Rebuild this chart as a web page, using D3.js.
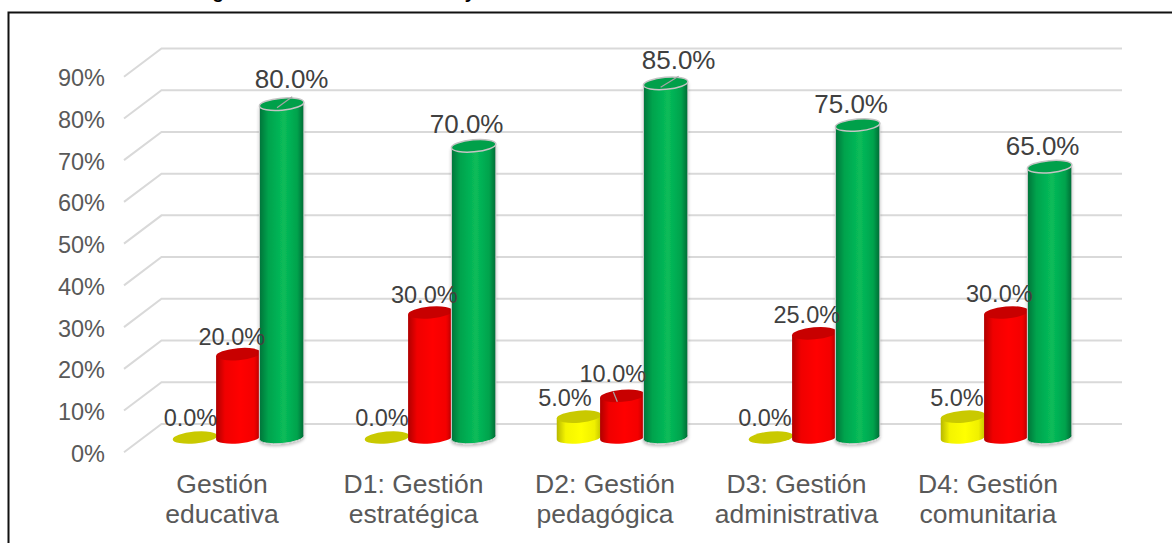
<!DOCTYPE html>
<html>
<head>
<meta charset="utf-8">
<script src="https://cdn.jsdelivr.net/npm/d3@7"></script>
<style>
html, body { margin: 0; padding: 0; background: #fff; overflow: hidden; }
svg { display: block; font-family: "Liberation Sans", Arial, sans-serif; }
</style>
</head>
<body>
<script>
const categories = ["Gestión educativa", "D1: Gestión estratégica", "D2: Gestión pedagógica", "D3: Gestión administrativa", "D4: Gestión comunitaria"];
const seriesNames = ["Inicio", "Proceso", "Logro"];
const inicio = [0, 0, 5, 0, 5];
const proceso = [20, 30, 10, 25, 30];
const logro = [80, 70, 85, 75, 65];
const yTicks = [0, 10, 20, 30, 40, 50, 60, 70, 80, 90];

const width = 1172, height = 543;
const rx = 22.3, ry = 6, tilt = -5;
const dxTilt = rx * Math.cos(tilt * Math.PI / 180), dyTilt = rx * Math.sin(tilt * Math.PI / 180);

const svg = d3.select(document.body).append("svg").attr("width", width).attr("height", height);
const defs = svg.append("defs");

const colors = [
    { stops: ["#b8b800", "#f4f400", "#ffff00", "#f0f000", "#c4c400"], top: "#c9c900", stroke: "none" },
    { stops: ["#b00000", "#f00000", "#ff0000", "#f40000", "#c00000"], top: "#c80000", stroke: "none" },
    { stops: ["#00743a", "#00a34d", "#08bc5a", "#00a34d", "#006b35"], top: "#00a04a", stroke: "#c4c4c4" },
];
colors.forEach((c, i) => {
    const g = defs.append("linearGradient").attr("id", "body" + i);
    [0, 0.2, 0.55, 0.85, 1].forEach((o, j) => g.append("stop").attr("offset", o).attr("stop-color", c.stops[j]));
});
defs.append("filter").attr("id", "shadow").attr("x", "-20%").attr("width", "140%").attr("y", "-5%").attr("height", "115%")
    .append("feDropShadow").attr("dx", 0).attr("dy", 2).attr("stdDeviation", 1.5).attr("flood-color", "#000").attr("flood-opacity", 0.25);

const x0 = d3.scaleBand().domain(categories).range([142.3, 1102.3]);
const x1 = d3.scaleBand().domain(seriesNames).range([-65, 65]);
const xLabel = d3.scalePoint().domain(categories).range([222, 988]);
const yFront = d3.scaleLinear().domain([0, 90]).range([452.3, 76.7]);
const yBack = d3.scaleLinear().domain([0, 90]).range([423.9, 48.5]);
const yBar = d3.scaleLinear().domain([0, 90]).range([437.5, 62.5]);

const barX = (s, i) => x0(categories[i]) + x0.bandwidth() / 2 + x1(seriesNames[s]) + x1.bandwidth() / 2;

// frame, right and bottom edges fall outside the picture
svg.append("path").attr("d", "M8.5,543V12.5H1172").attr("fill", "none").attr("stroke", "#111").attr("stroke-width", 2);

// what is left of the cropped title
svg.selectAll(".cut").data(["g", "y"]).enter().append("text")
    .attr("x", (d, i) => i ? 470 : 218).attr("y", -2.5).attr("text-anchor", "middle")
    .attr("font-size", 19).attr("font-weight", "bold").attr("fill", "#000").text(d => d);

// walls
const grid = svg.append("g").attr("fill", "none").attr("stroke", "#d9d9d9").attr("stroke-width", 2);
grid.selectAll("path").data(yTicks).enter().append("path")
    .attr("d", d => `M124,${yFront(d)}L161.5,${yBack(d)}H1122`);

svg.append("g").selectAll("text").data(yTicks).enter().append("text")
    .attr("x", 105).attr("y", d => yFront(d) + 1.3).attr("dy", "0.35em").attr("text-anchor", "end")
    .attr("font-size", 23.5).attr("fill", "#595959").text(d => d + "%");

// category labels
const catLabels = svg.append("g").attr("font-size", 26.5).attr("fill", "#595959").attr("text-anchor", "middle");
categories.forEach(c => {
    const k = c.lastIndexOf(" ");
    const t = catLabels.append("text");
    t.append("tspan").attr("x", xLabel(c)).attr("y", 493).text(c.slice(0, k));
    t.append("tspan").attr("x", xLabel(c)).attr("y", 523).text(c.slice(k + 1));
});

// cylinders
const series = [inicio, proceso, logro];
const bars = svg.append("g");
series.forEach((vals, s) => {
    vals.forEach((v, i) => {
        const cx = barX(s, i);
        const yb = yBar(0), yt = yBar(v);
        const g = bars.append("g");
        const c = colors[s];
        if (v > 0) {
            g.append("path")
                .attr("d", `M${cx - dxTilt},${yt - dyTilt}L${cx - dxTilt},${yb - dyTilt}A${rx},${ry} ${tilt} 0 0 ${cx + dxTilt},${yb + dyTilt}L${cx + dxTilt},${yt + dyTilt}Z`)
                .attr("fill", `url(#body${s})`)
                .attr("stroke", c.stroke === "none" ? "none" : "#d0d0d0")
                .attr("filter", s === 2 ? "url(#shadow)" : null);
        }
        g.append("ellipse").attr("rx", rx).attr("ry", ry)
            .attr("transform", `translate(${cx},${yt}) rotate(${tilt})`)
            .attr("fill", c.top).attr("stroke", c.stroke).attr("stroke-width", 1.5);
    });
});

// data labels were dragged by hand in the original: offsets from the cylinder top
const labelNudge = [
    [[-4.5, -19.5], [-5, -19.5], [-14, -18.5], [-6, -19.5], [-6, -18.5]],
    [[-6.5, -17], [-6, -17.5], [-9.5, -22.5], [-7.5, -18.5], [-7, -18.5]],
    [[10, -25], [-7, -21.5], [13, -23.5], [-6.5, -21.5], [-7, -20.5]],
];
const labelSize = [23.5, 23.5, 26];
const labels = svg.append("g").attr("fill", "#404040").attr("text-anchor", "middle");
series.forEach((vals, s) => {
    vals.forEach((v, i) => {
        labels.append("text").attr("font-size", labelSize[s])
            .attr("x", barX(s, i) + labelNudge[s][i][0]).attr("y", yBar(v) + labelNudge[s][i][1])
            .attr("dy", "0.35em").text(v.toFixed(1) + "%");
    });
});

// leader lines for the labels sitting far from their cylinder
const leaders = [
    { s: 2, i: 0, from: [-4.6, 3.5], to: [10.6, -7.5] },
    { s: 2, i: 2, from: [-5, 4], to: [13, -7] },
    { s: 1, i: 2, from: [-9, -4], to: [-5, 6] },
];
leaders.forEach(l => {
    const cx = barX(l.s, l.i), yt = yBar(series[l.s][l.i]);
    svg.append("line")
        .attr("x1", cx + l.from[0]).attr("y1", yt + l.from[1])
        .attr("x2", cx + l.to[0]).attr("y2", yt + l.to[1])
        .attr("stroke", "#a6a6a6").attr("stroke-width", 1.2);
});
</script>
</body>
</html>
